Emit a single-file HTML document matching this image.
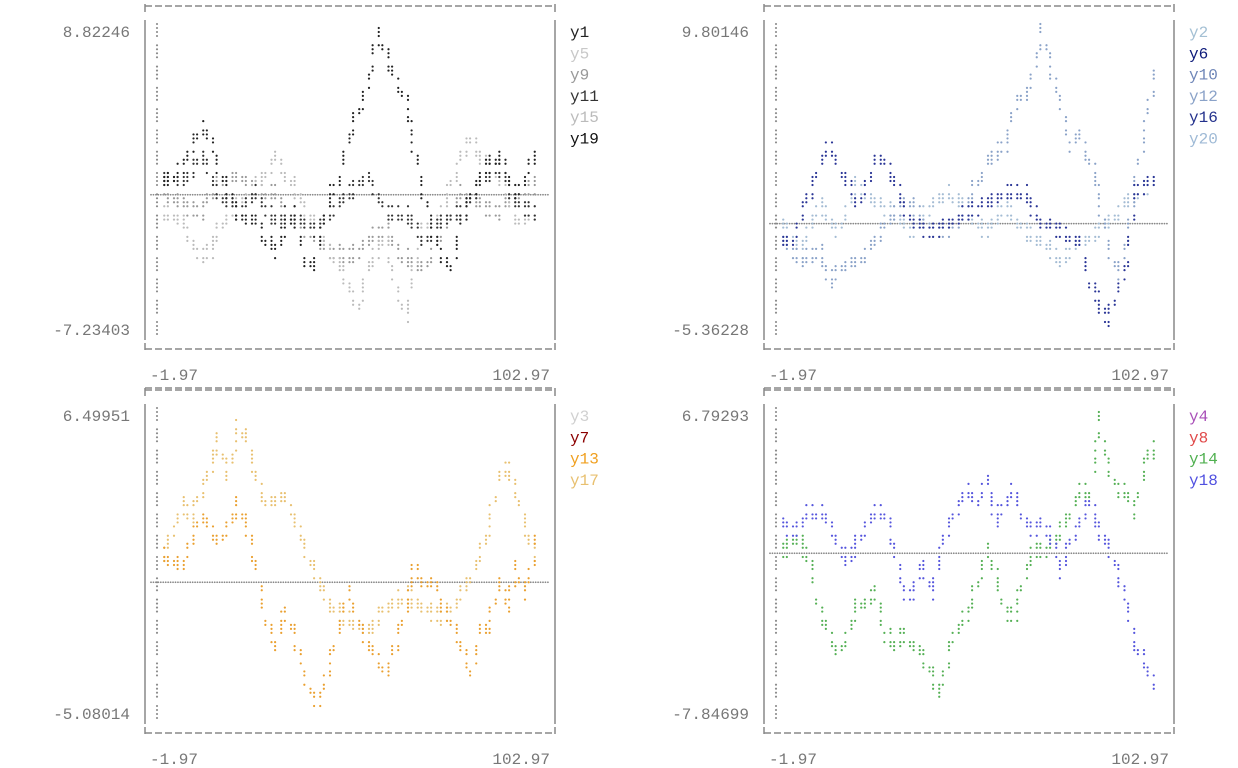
<!DOCTYPE html>
<html><head><meta charset="utf-8"><style>
body{margin:0;background:#fff;width:1238px;height:768px;overflow:hidden}
svg{display:block}
text{font-family:"Liberation Mono","DejaVu Sans Mono",monospace;font-size:16px}
</style></head><body>
<svg id="root" width="1238" height="768"></svg>
<script>
const xs = [0,2.5,5,7.5,10,12.5,15,17.5,20,22.5,25,27.5,30,32.5,35,37.5,40,42.5,45,47.5,50,52.5,55,57.5,60,62.5,65,67.5,70,72.5,75,77.5,80,82.5,85,87.5,90,92.5,95,97.5,100];
// panel 1
const y19 = [0.5,1,1.5,2.5,3.5,3,1.5,0,-1,-1.5,-1.5,-2.5,-3,-2,-1,-3.5,-4,-2,0,1,3,4.5,6,8.8,7.5,6,5,2.5,0,-2,-3.5,-4,-1.5,0,1,1.5,2,1,0,1,2];
const y11 = [1,0.8,0.5,1.2,2,1,0,-0.5,-1,-0.5,0,-0.8,-1.5,-1.2,-1,-1.5,-2,-1.5,-1,-0.5,0,0.5,1,0,-1,-1,-1,-1.8,-2.5,-2,-1.5,-1.2,-1,-0.2,0.5,1,1.5,0.5,-0.5,-0.8,-1];
const y15 = [-1,-1.2,-1.5,-2.5,-3.5,-3,-2,-1.2,-0.5,0,0.5,1.2,2,1.2,0.5,-0.5,-1.5,-2.2,-3,-4,-5,-6,-4,-3,-2.5,-5,-6.5,-4,-2,-1.5,-1,0.5,2,3,2,1.5,1,-0.2,-1.5,-1.2,-1];
const y9 = [0.2,-0.3,-0.6,-0.8,-1,0,0.5,0.8,1,0.5,0.3,0.1,0,-1,-1.5,-1.8,-2,-2.8,-3,-3.2,-3.5,-3,-2.5,-2.2,-2,-3,-3.5,-3.8,-4,-3,-2,-1,0,-0.3,-0.5,-0.8,-1,-0.5,0,0.3,0.5];
// panel 2
const y12 = [-1,-1.5,-2,-1.8,-1.5,-3,-2.5,-2.2,-2,-1.5,-1,-0.2,0.5,0.8,1,0.2,-0.5,-0.5,-0.5,0.2,1,2,3,3.5,4,6,6.5,7.5,9.8,7.5,6,4,4.5,3,1.5,-1,-2.5,-1,2,5,7.5];
const y2 = [0,-0.8,-1.5,-0.2,1,0.2,-0.5,0.8,2,1.5,1,0.8,0.5,0,-0.5,0.2,1,1.2,1.5,1,0.5,0,-0.5,0.2,1,0.2,-0.5,-0.8,-1,-1.5,-2,-1.5,-1,-0.8,-0.5,0,0.5,1,1.5,1.8,2];
const y16 = [-1,-1,0.5,1.5,3,4,3,2,1,2,3,3,2,1,0,-0.3,-0.5,-0.2,0,0.2,0.5,0.8,1,1.2,1.5,1.5,1.5,0.8,0,-0.2,-0.5,-0.8,-1,-3,-4,-5,-3.5,-2,1.5,2,2];
// panel 3
const y17 = [1,2,3,2.5,3.5,4.5,5.5,4,6,5.5,4,3,3,3.5,2.5,1.5,0.5,-0.2,-1,-1.2,-1.5,-1.8,-2,-1.5,-1,-0.8,-0.5,-0.8,-1,-1.2,-1.5,-1,-0.5,0.2,1,2,4,4.5,3.5,2,1];
const y13 = [1,0.8,0.5,1.5,2.5,2,1.5,2.2,3,2,0.5,-1.5,-2.5,-1,-2,-3.5,-4.5,-4.5,-3,-1.5,-0.5,-1.5,-2.5,-3,-3.5,-2.5,-1,0.5,0,0,-1,-1.5,-2.5,-3.5,-2,-2,0,-1,0.5,-0.5,1.5];
// panel 4
const y14 = [0,0.5,0.5,-0.5,-3,-4,-5,-4,-2.5,-2.5,-2,-4,-4.5,-4,-4.5,-5,-6,-7,-4.5,-3.5,-3,-1.5,0,-1,-3,-3,-1,0,0,0.5,1,2,3,3,6.5,4.5,3,3,2,4.5,5];
const y18 = [1.5,1,1.5,2,2,1.5,0.5,-0.5,0.5,1.5,2,2,0,-2,-2,-0.5,-2,0,1.5,2.5,3,2.5,3.5,1.5,2.5,3,1.5,1,1.5,0.5,-1,0.5,1.5,2.5,1,0.5,-1,-2.5,-4.5,-5.5,-6.5];

const panels = [
 {dx:0,dy:0,ymax:8.82246,ymin:-7.23403,yl:["8.82246","-7.23403"],
  legend:[["y1","#222"],["y5","#c8c8c8"],["y9","#999"],["y11","#333"],["y15","#bbb"],["y19","#111"]],
  series:[[y9,"#999"],[y15,"#bbb"],[y11,"#333"],[y19,"#222"]]},
 {dx:619,dy:0,ymax:9.80146,ymin:-5.36228,yl:["9.80146","-5.36228"],
  legend:[["y2","#a4c0d4"],["y6","#0d1a7a"],["y10","#6f86b8"],["y12","#8aa2c8"],["y16","#23318c"],["y20","#9fbad6"]],
  series:[[y2,"#a4bcd4"],[y12,"#8aa2c8"],[y16,"#2a3596"]]},
 {dx:0,dy:384,ymax:6.49951,ymin:-5.08014,yl:["6.49951","-5.08014"],
  legend:[["y3","#d0d0d0"],["y7","#8b0000"],["y13","#f0a020"],["y17","#e8c070"]],
  series:[[y17,"#e8c070"],[y13,"#eaa030"]]},
 {dx:619,dy:384,ymax:6.79293,ymin:-7.84699,yl:["6.79293","-7.84699"],
  legend:[["y4","#a950b8"],["y8","#e04848"],["y14","#50b050"],["y18","#5050e0"]],
  series:[[y14,"#55b055"],[y18,"#5555dd"]]}
];
const NS="http://www.w3.org/2000/svg";
const root=document.getElementById('root');
function mk(tag,attrs,parent){const e=document.createElementNS(NS,tag);for(const k in attrs)e.setAttribute(k,attrs[k]);(parent||root).appendChild(e);return e;}
const X0=157,X1=547,T=31,B=329;
const RH=(B-T)/14, CW=9.75, CL=152;
function dotX(c){const ch=Math.floor(c/2);return CL+ch*CW+2.5+(c%2)*3.6;}
function dotY(r){const row=Math.floor(r/4);return T-7+row*RH+(r%4)*4;}
panels.forEach((p,pi)=>{
  const g=mk('g',{transform:`translate(${p.dx},${p.dy})`});
  
  
  const sx=x=>X0+(x+1.97)/(104.94)*(X1-X0);
  const sy=v=>T+(p.ymax-v)/(p.ymax-p.ymin)*(B-T);
  const toC=px=>Math.round((px-CL-2.5)/CW*2);
  const toR=py=>Math.round((py-(T-7))/RH*4);
  const fr=mk('g',{stroke:'#888',fill:'none','stroke-width':1.5},g);
  
  
  mk('line',{x1:145,y1:6,x2:555,y2:6,'stroke-dasharray':'7,3'},fr);
  mk('line',{x1:145,y1:349,x2:555,y2:349,'stroke-dasharray':'7,3'},fr);
  mk('line',{x1:145,y1:388,x2:555,y2:388,'stroke-dasharray':'7,3'},fr);
  mk('line',{x1:145,y1:4,x2:145,y2:12},fr);mk('line',{x1:555,y1:4,x2:555,y2:12},fr);
  mk('line',{x1:145,y1:20,x2:145,y2:340},fr);mk('line',{x1:555,y1:20,x2:555,y2:340},fr);
  mk('line',{x1:145,y1:343,x2:145,y2:350},fr);mk('line',{x1:555,y1:343,x2:555,y2:350},fr);
  const ax=mk('g',{fill:'#888'},g);
  
  
  for(let r=0;r<60;r++){mk('circle',{cx:157,cy:dotY(r),r:1.05},ax);}
  const zy=sy(0);
  for(let x=151;x<=549;x+=2.45){mk('circle',{cx:x,cy:zy,r:0.9},ax);}
  p.series.forEach(([arr,col],si)=>{
    const sg=mk('g',{fill:col},g);
    
    
    const seen=new Set();
    const put=(c,r)=>{const k=c+','+r;if(seen.has(k))return;seen.add(k);mk('circle',{cx:dotX(c),cy:dotY(r),r:1.1},sg);};
    for(let i=0;i<xs.length;i++){
      const steps=(i<xs.length-1)?3:1;
      for(let k=0;k<steps;k++){
        const t=k/3;
        const xv=xs[i]+(i<xs.length-1?(xs[i+1]-xs[i])*t:0);
        const yv=arr[i]+(i<xs.length-1?(arr[i+1]-arr[i])*t:0);
        const c=toC(sx(xv)), r=toR(sy(yv));
        put(c,r);put(c,r+1);
        if((i+k)%2===0){put(c,r-1);}
      }
    }
  });
  const l1=mk('text',{x:130,y:T+6,'text-anchor':'end',fill:'#777'},g);l1.textContent=p.yl[0];
  
  const l2=mk('text',{x:130,y:B+6,'text-anchor':'end',fill:'#777'},g);l2.textContent=p.yl[1];
  
  const l3=mk('text',{x:150,y:380,fill:'#777'},g);l3.textContent='-1.97';
  
  const l4=mk('text',{x:550,y:380,'text-anchor':'end',fill:'#777'},g);l4.textContent='102.97';
  
  p.legend.forEach(([n,c],li)=>{
    const t=mk('text',{x:570,y:T+6+li*21.3,fill:c},g);t.textContent=n;
    
    
  });
});
</script>
</body></html>
